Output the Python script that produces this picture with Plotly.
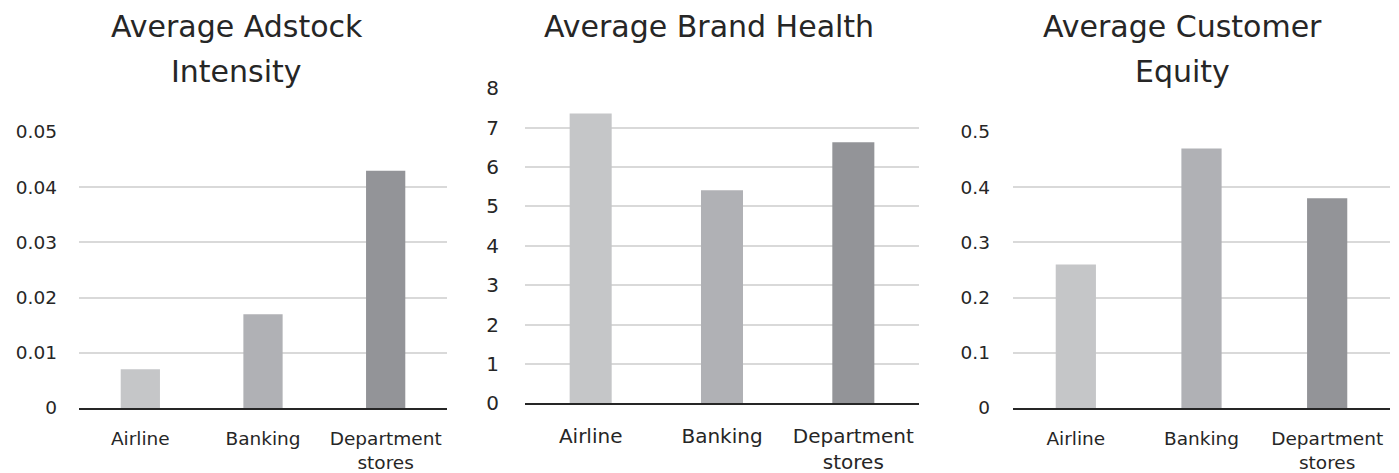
import plotly.graph_objects as go

categories = ["Airline", "Banking", "Department stores"]
tick_labels = ["Airline", "Banking", "Department<br>stores"]
adstock = [0.007, 0.017, 0.043]
brand_health = [7.36, 5.41, 6.63]
customer_equity = [0.26, 0.47, 0.38]
titles = [["Average Adstock", "Intensity"], ["Average Brand Health"], ["Average Customer", "Equity"]]
bar_colors = ["#C5C6C8", "#B0B1B5", "#939498"]

W, H = 1399, 473
FONT = "DejaVu Sans"
TXT = "#262626"

fig = go.Figure()

panels = [
    dict(vals=adstock, xd=(79, 447), yd=(408, 132), rng=[0, 0.05], dt=0.01, fs=18.5, stand=21, xst=13, tcx=237, lines=[27, 72]),
    dict(vals=brand_health, xd=(525, 919), yd=(403.3, 88.3), rng=[0, 8], dt=1, fs=20, stand=25, xst=14, tcx=709, lines=[27]),
    dict(vals=customer_equity, xd=(1013, 1390), yd=(408, 132), rng=[0, 0.5], dt=0.1, fs=18.5, stand=22, xst=13, tcx=1182, lines=[27, 72]),
]

for i, p in enumerate(panels):
    n = "" if i == 0 else str(i + 1)
    fig.add_trace(go.Bar(
        x=categories, y=p["vals"], marker=dict(color=bar_colors, line=dict(width=0)),
        xaxis="x" + n, yaxis="y" + n, showlegend=False, hoverinfo="x+y",
    ))
    fig.layout["xaxis" + n] = dict(
        domain=[p["xd"][0] / W, p["xd"][1] / W], anchor="y" + n,
        tickmode="array", tickvals=categories, ticktext=tick_labels,
        showline=True, linecolor="#262626", linewidth=2, showgrid=False,
        ticks="", tickfont=dict(family=FONT, size=p["fs"], color=TXT),
        ticklabelstandoff=p["xst"], fixedrange=True, automargin=False,
    )
    fig.layout["yaxis" + n] = dict(
        domain=[(H - p["yd"][0]) / H, (H - p["yd"][1]) / H], anchor="x" + n,
        range=p["rng"], dtick=p["dt"], tick0=0, showgrid=True, gridcolor="#D9D9D9", gridwidth=2,
        zeroline=False, showline=False, ticks="",
        tickfont=dict(family=FONT, size=p["fs"], color=TXT),
        ticklabelstandoff=p["stand"], fixedrange=True, automargin=False,
    )
    for line, yc in zip(titles[i], p["lines"]):
        fig.add_annotation(
            text=line, x=p["tcx"] / W, y=1 - yc / H, xref="paper", yref="paper",
            xanchor="center", yanchor="middle", showarrow=False,
            font=dict(family=FONT, size=30, color=TXT),
        )

fig.update_layout(
    width=W, height=H, autosize=False,
    margin=dict(l=0, r=0, t=0, b=0, pad=0),
    paper_bgcolor="white", plot_bgcolor="white",
    bargap=0.68,
)

fig.write_html(
    "out.html",
    config={"displayModeBar": False},
    post_script="document.body.style.margin='0px';document.body.style.overflow='hidden';",
)
